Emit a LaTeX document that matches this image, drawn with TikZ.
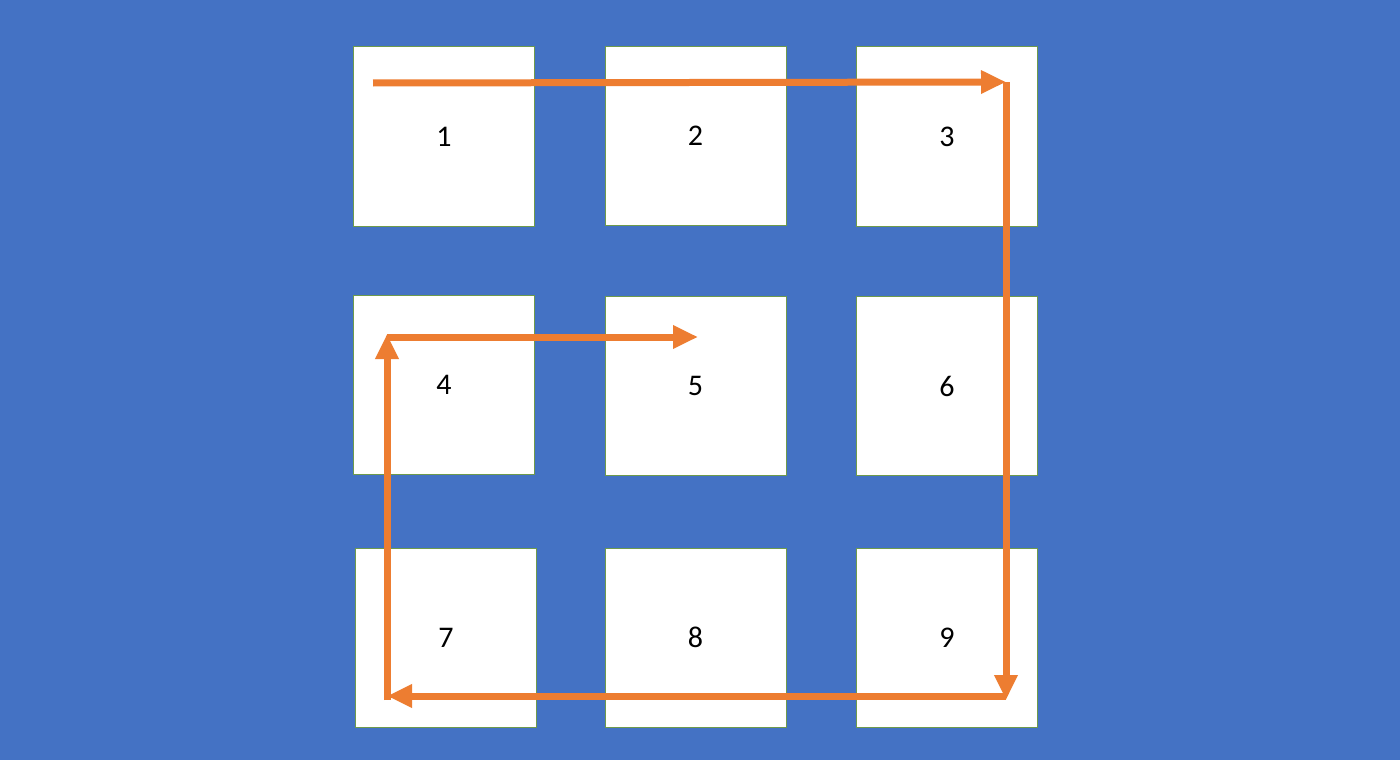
\documentclass[tikz,border=0pt]{standalone}
\usepackage{fontspec}
\setmainfont{Carlito}
\usetikzlibrary{arrows.meta}
\definecolor{bgblue}{HTML}{4472C4}
\definecolor{flow}{HTML}{ED7D31}
\definecolor{edge}{HTML}{6E9A4C}
\begin{document}
\begin{tikzpicture}[x=1pt,y=-1pt]
   \fill[bgblue] (0,0) rectangle (1400,760);
   \useasboundingbox (0,0) rectangle (1400,760);
   \begin{scope}[every node/.style={rectangle,draw=edge,line width=1pt,fill=white,
       minimum width=181pt,minimum height=179pt,inner sep=0pt,
       font=\fontsize{30}{34}\selectfont}]
    \node (n1) at (444,136.5) {1};
    \node (n2) at (695.5,136) {2};
    \node (n3) at (947,136.5) {3};
    \node (n4) at (444,384.5) {4};
    \node (n5) at (695.5,386) {5};
    \node (n6) at (947,386) {6};
    \node (n7) at (446,637.5) {7};
    \node (n8) at (695.5,637.5) {8};
    \node (n9) at (947,637.5) {9};
   \end{scope}
    \coordinate (s) at (373,83);
    \coordinate (c1) at (1006,82);
    \coordinate (c2) at (1006,700);
    \coordinate (c2b) at (1006,696);
    \coordinate (c3) at (387,696);
    \coordinate (c3b) at (387,700);
    \coordinate (c4) at (387,334);
    \coordinate (c4b) at (387,337);
    \coordinate (e) at (698,337);
   \begin{scope}[every path/.style={draw=flow,line width=7pt,-{Triangle[length=25pt,width=22pt]}}]
    \draw (s) -- (c1);
    \draw (c1) -- (c2);
    \draw (c2b) -- (c3);
    \draw (c3b) -- (c4);
    \draw (c4b) -- (e);
   \end{scope}
\end{tikzpicture}
\end{document}
